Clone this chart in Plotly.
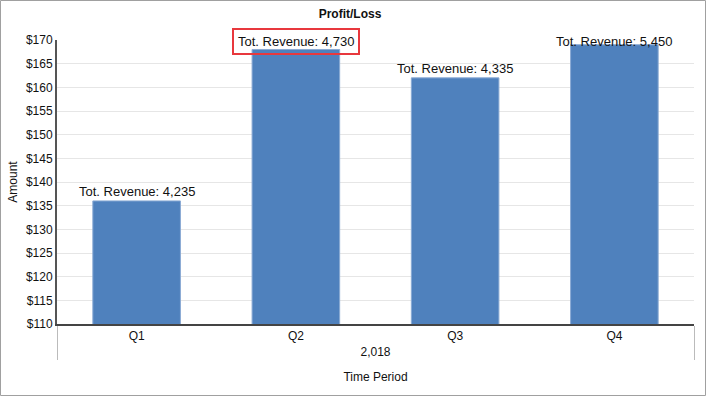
import plotly.graph_objects as go

quarters = ["Q1", "Q2", "Q3", "Q4"]
year_labels = ["2,018", "2,018", "2,018", "2,018"]
amounts = [136, 168, 162, 169]
revenue_labels = ["Tot. Revenue: 4,235", "Tot. Revenue: 4,730", "Tot. Revenue: 4,335", "Tot. Revenue: 5,450"]
highlight = [False, True, False, False]

W, H = 706, 396
ML, MR, MT, MB = 57, 12, 40, 72

fig = go.Figure()
fig.add_trace(go.Bar(
    x=[year_labels, quarters],
    y=amounts,
    marker=dict(color="#4f81bd", line=dict(color="#8aaad4", width=1)),
    hoverinfo="skip",
))

for i, (v, lab, hl) in enumerate(zip(amounts, revenue_labels, highlight)):
    fig.add_annotation(
        xref="x", yref="y",
        x=i, y=min(v, 167.7),
        text=lab, showarrow=False,
        yanchor="middle", yshift=9,
        font=dict(family="Arial", size=13, color="#111"),
        bordercolor="#e8383d" if hl else "rgba(0,0,0,0)",
        borderwidth=2 if hl else 0,
        borderpad=4 if hl else 0,
    )

pw = W - ML - MR
ph = H - MT - MB
fig.add_shape(
    type="rect", xref="paper", yref="paper",
    x0=(0.5 - ML) / pw, x1=(W - 0.5 - ML) / pw,
    y0=-(H - 0.5 - MT - ph) / ph, y1=1 + (MT - 0.5) / ph,
    line=dict(color="#a0a0a0", width=1), layer="below",
)

fig.update_layout(
    width=W, height=H,
    margin=dict(l=ML, r=MR, t=MT, b=MB),
    paper_bgcolor="white", plot_bgcolor="white",
    font=dict(family="Arial", size=12, color="#111"),
    title=dict(text="<b>Profit/Loss</b>", x=350 / W, xref="container", y=1 - 14 / H, yanchor="middle",
               xanchor="center", font=dict(size=12, family="Arial", color="#111")),
    bargap=0.45,
    showlegend=False,
    xaxis=dict(
        type="multicategory",
        showline=True, linecolor="#444", linewidth=2,
        showgrid=False, ticks="",
        dividercolor="#bbbbbb", dividerwidth=1,
        title=dict(text="Time Period", font=dict(size=12), standoff=14),
        tickfont=dict(size=12, color="#111"),
    ),
    yaxis=dict(
        range=[110, 170], dtick=5, tickprefix="$",
        showline=True, linecolor="#555", linewidth=2,
        gridcolor="#e6e6e6", gridwidth=1, zeroline=False,
        ticks="", ticklen=0,
        title=dict(text="Amount", font=dict(size=12), standoff=6),
        tickfont=dict(size=12, color="#111"),
    ),
)

fig.write_html("out.html", config={"displayModeBar": False},
               post_script="document.body.style.margin='0';")
